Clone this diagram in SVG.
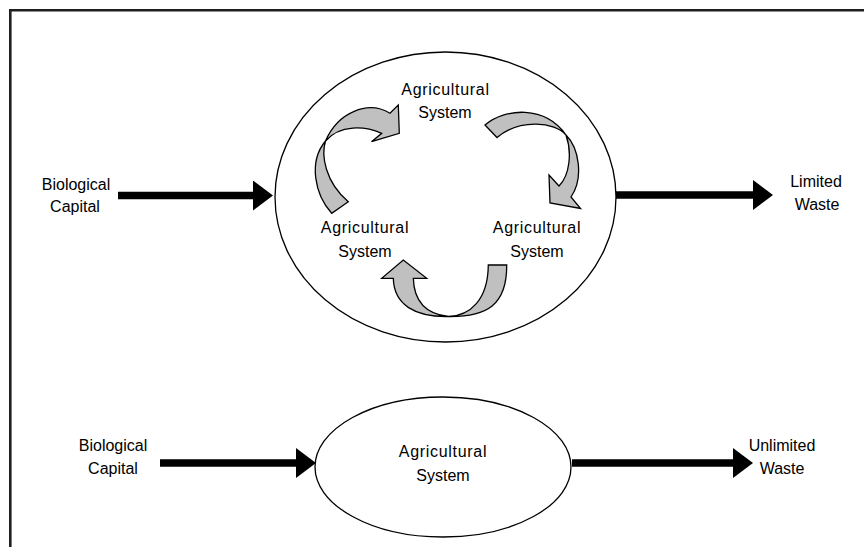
<svg xmlns="http://www.w3.org/2000/svg" width="864" height="547" viewBox="0 0 864 547">
  <style>
    .frame { fill: none; stroke: #1f1f1f; stroke-width: 2.6; }
    .node-shape { fill: #ffffff; stroke: #000000; stroke-width: 1.3; }
    .label { font-family: "Liberation Sans", Arial, sans-serif; font-size: 16px; fill: #000000; text-anchor: middle; }
    .wide { letter-spacing: 0.7px; }
    .flow { fill: none; stroke: #000000; stroke-width: 7.5; marker-end: url(#head); }
    .cycle { fill: #c0c0c0; stroke: #000000; stroke-width: 1.3; stroke-linejoin: miter; }
  </style>
  <defs>
    <marker id="head" viewBox="0 0 20 30" markerUnits="userSpaceOnUse" markerWidth="20" markerHeight="30" refX="2" refY="15" orient="auto">
      <path d="M0,0 L20,15 L0,30 Z" fill="#000000"/>
    </marker>
  </defs>
  <rect width="864" height="547" fill="#ffffff"/>
  <path class="frame" d="M10.3,547 V10.3 H864"/>

  <g id="closed-system">
    <ellipse class="node-shape" cx="445.5" cy="197" rx="170.5" ry="145"/>
  </g>

  <g id="open-system">
    <ellipse class="node-shape" cx="443" cy="467" rx="128" ry="70"/>
    <text class="label wide" x="443" y="457">Agricultural</text>
    <text class="label" x="443" y="481">System</text>
  </g>

  <g id="connectors">
    <line class="flow" x1="118" y1="195.5" x2="255" y2="195.5"/>
    <line class="flow" x1="616" y1="195" x2="755" y2="195"/>
    <line class="flow" x1="160" y1="463" x2="298" y2="463"/>
    <line class="flow" x1="572" y1="463" x2="735" y2="463"/>
    <path id="cycle-left" class="cycle" d="M331.7,213.3 C315,195 308,162 325.5,141 C338,112 368,100 390,113.3 L398.3,105 L399.3,133.3 L371.5,141.7 L381.7,133.3 C365,126 340,124 325.5,141 C321,155 325,182 348.3,201.7 Z"/>
    <path id="cycle-right" class="cycle" d="M485,125 C505,108 545,105 566,135 C579,148 584,178 571,197 L580.5,208.5 L550,203 L549,175 L559,186 C570,175 572,152 566,135 C555,122 520,118 497,137.5 Z"/>
    <path id="cycle-bottom" class="cycle" d="M506.7,265 C507,305 487,317 448.3,316.5 C415,317 394,305 393.3,278.3 L381.7,278.3 L403.3,260 L426.7,278.3 L413.3,278.3 C414,300 425,314 448.3,316.5 C470,316 488,300 488.3,265 Z"/>
  </g>

  <g id="bio-capital-top">
    <text class="label" x="76" y="190">Biological</text>
    <text class="label" x="75" y="211.5">Capital</text>
  </g>

  <g id="agri-top">
    <text class="label wide" x="445.5" y="95">Agricultural</text>
    <text class="label" x="445" y="118">System</text>
  </g>
  <g id="agri-left">
    <text class="label wide" x="365" y="233">Agricultural</text>
    <text class="label" x="365" y="257">System</text>
  </g>
  <g id="agri-right">
    <text class="label wide" x="537" y="233">Agricultural</text>
    <text class="label" x="537" y="257">System</text>
  </g>

  <g id="limited-waste">
    <text class="label" x="816" y="187">Limited</text>
    <text class="label" x="817" y="210">Waste</text>
  </g>

  <g id="bio-capital-bottom">
    <text class="label" x="113" y="451">Biological</text>
    <text class="label" x="113" y="474">Capital</text>
  </g>

  <g id="unlimited-waste">
    <text class="label" x="782" y="451">Unlimited</text>
    <text class="label" x="782" y="474">Waste</text>
  </g>
</svg>
